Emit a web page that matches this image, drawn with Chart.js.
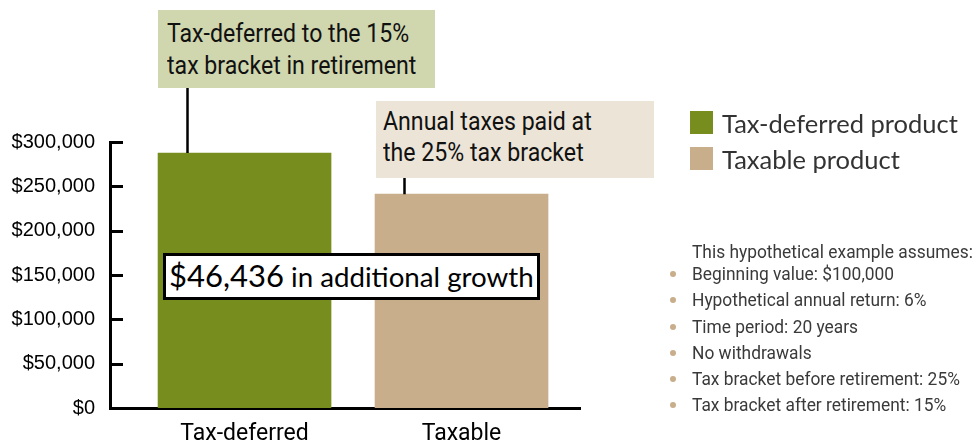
<!DOCTYPE html>
<html>
<head>
<meta charset="utf-8">
<script src="https://cdn.jsdelivr.net/npm/chart.js@4.4.1/dist/chart.umd.min.js"></script>
<style>
  html, body { margin: 0; padding: 0; background: #ffffff; }
  #wrap { position: relative; width: 973px; height: 446px; overflow: hidden; }
  #c { position: absolute; left: 0; top: 0; }
  .narrow { font-family: Roboto, 'Liberation Sans', sans-serif; }
  .callout { position: absolute; box-sizing: border-box; color: #111; font-size: 25px; white-space: nowrap; }
  .callout div { transform: scaleX(0.925); transform-origin: 0 50%; }
  #boxA { left: 158px; top: 10px; width: 277px; height: 78px; background: #d0d6ae; padding: 8px 0 0 9px; line-height: 32px; }
  #boxB { left: 376px; top: 101px; width: 278px; height: 77px; background: #ece4d6; padding: 5px 0 0 7px; line-height: 31px; }
  #diff { position: absolute; box-sizing: border-box; left: 163px; top: 253px; width: 377px; height: 47px;
          border: 3px solid #000; background: #fff; padding: 0 0 0 3px; white-space: nowrap;
          font-family: Lato, 'Open Sans', sans-serif; font-size: 31px; line-height: 38px; color: #000; }
  #diff .rest { font-size: 27.7px; }
  #legend { position: absolute; left: 690px; top: 105px; font-family: Lato, 'Open Sans', sans-serif; font-size: 25.5px; line-height: 36px; color: #333; }
  #legend .item { position: relative; padding-left: 32px; white-space: nowrap; }
  #legend .sw { position: absolute; left: 0; top: 6px; width: 23px; height: 23px; }
  #notesHead { position: absolute; left: 692px; top: 239px; font-size: 18px; line-height: 26px; color: #3a3a3a; white-space: nowrap; transform: scaleX(0.965); transform-origin: 0 50%; }
  #notes { position: absolute; left: 692px; top: 261px; margin: 0; padding: 0; list-style: none; font-size: 18px; line-height: 26.3px; color: #3a3a3a; }
  #notes li { position: relative; white-space: nowrap; }
  #notes li span { display: inline-block; transform: scaleX(0.965); transform-origin: 0 50%; }
  #notes li::before { content: ''; position: absolute; left: -22px; top: 10px; width: 6px; height: 6px; border-radius: 50%; background: #c8ae8a; }
</style>
</head>
<body>
<div id="wrap">
  <canvas id="c" width="973" height="446"></canvas>
  <div id="boxA" class="callout narrow"></div>
  <div id="boxB" class="callout narrow"></div>
  <div id="diff"></div>
  <div id="legend"></div>
  <div id="notesHead" class="narrow"></div>
  <ul id="notes" class="narrow"></ul>
</div>
<script>
// ---- data ----
const categories = ['Tax-deferred', 'Taxable'];
const seriesNames = ['Tax-deferred product', 'Taxable product'];
const values = [287607, 241171];
const barColors = ['#778e1f', '#c8ae8a'];
const yTickValues = [0, 50000, 100000, 150000, 200000, 250000, 300000];
const calloutTexts = [
  ['Tax-deferred to the 15%', 'tax bracket in retirement'],
  ['Annual taxes paid at', 'the 25% tax bracket']
];
const diffAmount = '$46,436';
const diffText = ' in additional growth';
const notesTitle = 'This hypothetical example assumes:';
const notes = [
  'Beginning value: $100,000',
  'Hypothetical annual return: 6%',
  'Time period: 20 years',
  'No withdrawals',
  'Tax bracket before retirement: 25%',
  'Tax bracket after retirement: 15%'
];

// ---- text overlays ----
function fillLines(el, lines) {
  lines.forEach(t => { const d = document.createElement('div'); d.textContent = t; el.appendChild(d); });
}
fillLines(document.getElementById('boxA'), calloutTexts[0]);
fillLines(document.getElementById('boxB'), calloutTexts[1]);
(function () {
  const d = document.getElementById('diff');
  const a = document.createElement('span'); a.textContent = diffAmount; d.appendChild(a);
  const b = document.createElement('span'); b.className = 'rest'; b.textContent = diffText; d.appendChild(b);
  const lg = document.getElementById('legend');
  seriesNames.forEach((n, i) => {
    const it = document.createElement('div'); it.className = 'item';
    const sw = document.createElement('span'); sw.className = 'sw'; sw.style.background = barColors[i];
    it.appendChild(sw); it.appendChild(document.createTextNode(n)); lg.appendChild(it);
  });
  document.getElementById('notesHead').textContent = notesTitle;
  const ul = document.getElementById('notes');
  notes.forEach(n => {
    const li = document.createElement('li');
    const s = document.createElement('span'); s.textContent = n; li.appendChild(s);
    ul.appendChild(li);
  });
})();

// ---- plugins: inner y tick marks and callout leader lines ----
const decor = {
  id: 'decor',
  afterDraw(chart) {
    const ctx = chart.ctx;
    const y = chart.scales.y;
    const area = chart.chartArea;
    ctx.save();
    ctx.strokeStyle = '#000';
    ctx.lineWidth = 3;
    ctx.beginPath();
    yTickValues.forEach(v => {
      if (v === 0) return;
      const py = Math.round(y.getPixelForValue(v)) + 0.5;
      ctx.moveTo(area.left, py);
      ctx.lineTo(area.left + 13, py);
    });
    ctx.stroke();
    const meta = chart.getDatasetMeta(0);
    const boxBottoms = [88, 178];
    ctx.lineWidth = 2.5;
    ctx.beginPath();
    meta.data.forEach((bar, i) => {
      const lx = Math.round(bar.x - bar.width / 2 + 29) + 0.5;
      ctx.moveTo(lx, boxBottoms[i]);
      ctx.lineTo(lx, bar.y);
    });
    ctx.stroke();
    ctx.restore();
  }
};

new Chart(document.getElementById('c'), {
  type: 'bar',
  data: {
    datasets: [{
      data: categories.map((c, i) => ({ x: i, y: values[i] })),
      backgroundColor: barColors,
      borderWidth: 0,
      barThickness: 173
    }]
  },
  options: {
    responsive: false,
    animation: false,
    devicePixelRatio: 1,
    layout: { padding: { top: 142, right: 393, left: 0, bottom: 0 } },
    plugins: { legend: { display: false }, tooltip: { enabled: false } },
    scales: {
      x: {
        type: 'linear',
        offset: false,
        min: -0.62,
        max: 1.546,
        grid: { display: false, drawTicks: false, offset: false },
        border: { display: true, color: '#000', width: 3 },
        afterBuildTicks: s => { s.ticks = categories.map((c, i) => ({ value: i })); },
        afterFit: s => { s.height = 38; },
        ticks: {
          autoSkip: false, maxRotation: 0, padding: 12,
          color: '#000',
          font: { family: "Roboto, 'Liberation Sans', sans-serif", size: 23 },
          callback: v => categories[v]
        }
      },
      y: {
        min: 0,
        max: 300000,
        grid: { display: false, drawTicks: false },
        border: { display: true, color: '#000', width: 3 },
        afterBuildTicks: s => { s.ticks = yTickValues.map(v => ({ value: v })); },
        afterFit: s => { s.width = 110; },
        ticks: {
          padding: 15,
          color: '#000',
          font: { family: "'Liberation Sans', Arial, sans-serif", size: 20 },
          callback: v => '$' + Number(v).toLocaleString('en-US')
        }
      }
    }
  },
  plugins: [decor]
});
</script>
</body>
</html>
